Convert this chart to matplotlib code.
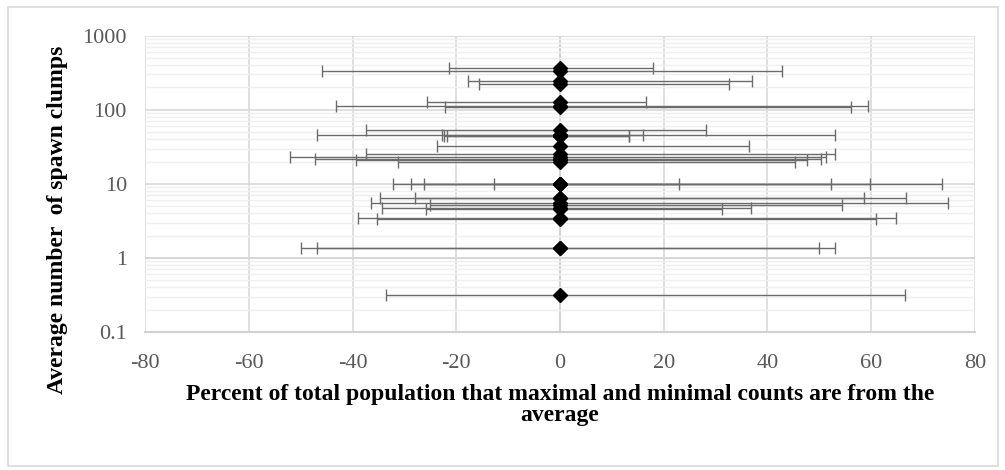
import matplotlib
matplotlib.use("Agg")
import matplotlib.pyplot as plt
from matplotlib.patches import Rectangle
from matplotlib.ticker import LogLocator, NullFormatter

# average number of spawn clumps (y) and how far min / max counts are from it (x, percent)
avg_clumps = [369, 333, 244, 220, 127, 112, 109, 54, 46, 45, 44, 44, 32,
              25, 23, 22, 21, 20, 10, 10, 10, 10, 6.5, 6.4, 5.6, 5.15,
              4.65, 4.6, 3.45, 3.4, 1.38, 1.37, 0.316]
pct_min = [-21.4, -45.8, -17.7, -15.7, -25.6, -43.1, -22.2, -37.4, -46.8, -22.7, -22.4, -21.8, -23.7,
           -37.4, -52.0, -47.3, -39.3, -31.2, -12.8, -26.3, -28.8, -32.2, -34.7, -28.0, -36.5, -25.1,
           -34.4, -25.8, -38.9, -35.2, -50.0, -46.8, -33.5]
pct_max = [17.9, 42.8, 37.1, 32.5, 16.5, 59.3, 56.1, 28.2, 53.1, 16.1, 13.4, 13.4, 36.4,
           53.1, 51.3, 50.4, 47.7, 45.3, 23.0, 52.2, 59.8, 73.6, 66.7, 58.6, 74.9, 54.4,
           36.8, 31.2, 64.8, 61.0, 49.9, 53.1, 66.5]
centre = [0] * len(avg_clumps)

x_ticks = [-80, -60, -40, -20, 0, 20, 40, 60, 80]
y_ticks = [0.1, 1, 10, 100, 1000]
y_tick_labels = ["0.1", "1", "10", "100", "1000"]

plt.rcParams['font.family'] = ['Liberation Serif', 'DejaVu Serif']

fig = plt.figure(figsize=(10.05, 4.7), dpi=100)
fig.patches.append(Rectangle((0.008, 0.008), 0.985, 0.978, transform=fig.transFigure,
                             facecolor='none', edgecolor='#d9d9d9', linewidth=1.2))
ax = fig.add_axes([0.1443, 0.2936, 0.8258, 0.6304])

xerr = [[-v for v in pct_min], pct_max]
ax.errorbar(centre, avg_clumps, xerr=xerr, fmt='none', ecolor='#6b6b6b',
            elinewidth=1.0, capsize=4.5, capthick=1.0, zorder=3)
ax.plot(centre, avg_clumps, 'D', color='black', markersize=7.2, zorder=4)

ax.set_yscale('log')
ax.set_xlim(-80, 80)
ax.set_ylim(0.1, 1000)
ax.set_xticks(x_ticks)
ax.set_xticklabels([str(t) for t in x_ticks])
ax.set_yticks(y_ticks)
ax.set_yticklabels(y_tick_labels)
ax.yaxis.set_minor_locator(LogLocator(base=10, subs=range(2, 10)))
ax.yaxis.set_minor_formatter(NullFormatter())

ax.grid(which='major', color='#d9d9d9', linewidth=1.2, zorder=0)
ax.grid(which='minor', axis='y', color='#efefef', linewidth=1.0, zorder=0)
ax.axvline(0, color='#bfbfbf', linewidth=1.5, zorder=1)
ax.axhline(1, color='#cccccc', linewidth=1.3, zorder=1)

for s in ['top', 'right', 'left']:
    ax.spines[s].set_visible(False)
ax.spines['bottom'].set_color('#d0d0d0')
ax.spines['bottom'].set_linewidth(1.5)

ax.tick_params(axis='both', which='both', length=0, labelsize=16, labelcolor='#595959')
ax.tick_params(axis='x', pad=16)
ax.tick_params(axis='y', pad=13)

ax.set_xlabel("Percent of total population that maximal and minimal counts are from the\naverage",
              fontsize=17, fontweight='bold', linespacing=1.0)
ax.xaxis.set_label_coords(0.5, -0.174)
ax.set_ylabel("Average number  of spawn clumps", fontsize=17, fontweight='bold')
ax.yaxis.set_label_coords(-0.093, 0.378)

fig.savefig("out.png", dpi=100)
